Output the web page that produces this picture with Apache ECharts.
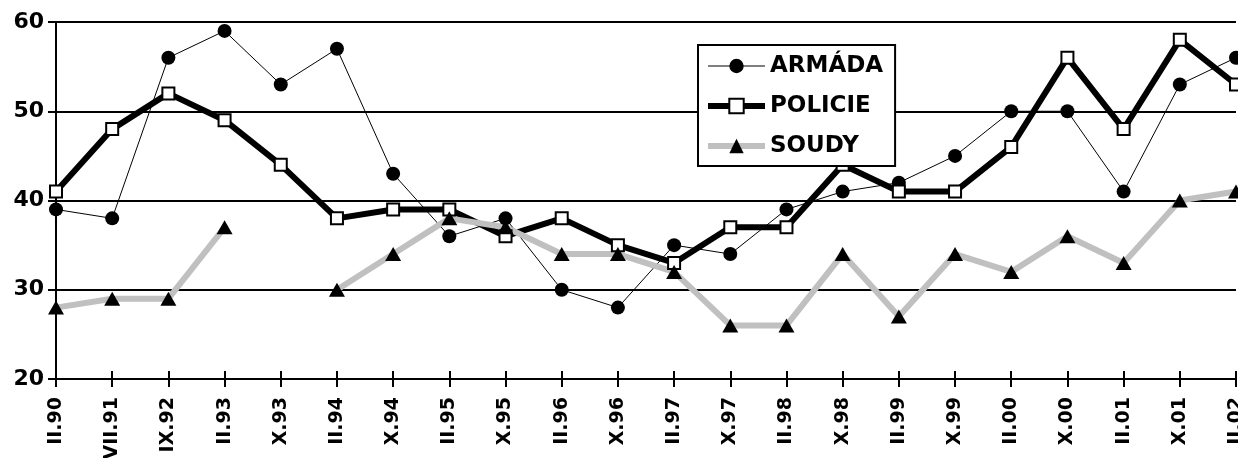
<!DOCTYPE html>
<html>
<head>
<meta charset="utf-8">
<script src="https://cdn.jsdelivr.net/npm/echarts@6/dist/echarts.min.js"></script>
<style>
  html, body { margin: 0; padding: 0; background: #fff; }
  #chart { width: 1238px; height: 458px; }
</style>
</head>
<body>
<div id="chart"></div>
<script>
var categories = ['II.90', 'VII.91', 'IX.92', 'II.93', 'X.93', 'II.94', 'X.94', 'II.95', 'X.95', 'II.96', 'X.96',
  'II.97', 'X.97', 'II.98', 'X.98', 'II.99', 'X.99', 'II.00', 'X.00', 'II.01', 'X.01', 'II.02'];
var armada =  [39, 38, 56, 59, 53, 57, 43, 36, 38, 30, 28, 35, 34, 39, 41, 42, 45, 50, 50, 41, 53, 56];
var policie = [41, 48, 52, 49, 44, 38, 39, 39, 36, 38, 35, 33, 37, 37, 44, 41, 41, 46, 56, 48, 58, 53];
var soudy =   [28, 29, 29, 37, null, 30, 34, 38, 37, 34, 34, 32, 26, 26, 34, 27, 34, 32, 36, 33, 40, 41];
var yTicks = { min: 20, max: 60, interval: 10 };

(function() {
  var font = 'DejaVu Sans';
  var chart = echarts.init(document.getElementById('chart'), null, { renderer: 'canvas' });

  chart.setOption({
    animation: false,
    grid: { left: 56, right: 2, top: 22, bottom: 79, outerBoundsMode: 'none' },
    legend: {
      orient: 'vertical',
      left: 698,
      top: 45,
      padding: [7, 12, 6, 7],
      itemGap: 12,
      itemWidth: 57,
      itemHeight: 18,
      backgroundColor: '#fff',
      borderColor: '#000',
      borderWidth: 2,
      textStyle: { color: '#000', fontFamily: font, fontWeight: 'bold', fontSize: 23, lineHeight: 28 },
      data: [
        { name: 'ARMÁDA', lineStyle: { color: '#000', width: 1 }, itemStyle: { color: '#000', borderWidth: 0 } },
        { name: 'POLICIE', lineStyle: { color: '#000', width: 6 }, itemStyle: { color: '#fff', borderColor: '#000', borderWidth: 2 } },
        { name: 'SOUDY', lineStyle: { color: '#c0c0c0', width: 6 }, itemStyle: { color: '#000', borderWidth: 0 } }
      ]
    },
    xAxis: [{
      type: 'category',
      data: categories,
      boundaryGap: false,
      position: 'bottom',
      axisLine: { lineStyle: { color: '#000', width: 2 } },
      axisTick: { show: true, length: 8, lineStyle: { color: '#000', width: 2 } },
      axisLabel: {
        rotate: 90, margin: 18, interval: 0,
        color: '#000', fontFamily: font, fontWeight: 'bold', fontSize: 19
      },
      splitLine: { show: false }
    }, {
      type: 'category',
      data: categories,
      boundaryGap: false,
      position: 'bottom',
      axisLine: { show: false },
      axisTick: { show: true, inside: true, length: 8, lineStyle: { color: '#000', width: 2 } },
      axisLabel: { show: false },
      splitLine: { show: false }
    }],
    yAxis: [{
      type: 'value',
      min: yTicks.min, max: yTicks.max, interval: yTicks.interval,
      position: 'left',
      axisLine: { show: true, lineStyle: { color: '#000', width: 2 } },
      axisTick: { show: true, length: 8, lineStyle: { color: '#000', width: 2 } },
      axisLabel: { margin: 12, color: '#000', fontFamily: font, fontWeight: 'bold', fontSize: 22 },
      splitLine: { show: true, lineStyle: { color: '#000', width: 2 } }
    }, {
      type: 'value',
      min: yTicks.min, max: yTicks.max, interval: yTicks.interval,
      position: 'left',
      axisLine: { show: false },
      axisTick: { show: true, inside: true, length: 8, lineStyle: { color: '#000', width: 2 } },
      axisLabel: { show: false },
      splitLine: { show: false }
    }],
    series: [
      {
        name: 'ARMÁDA',
        type: 'line',
        data: armada,
        symbol: 'circle',
        symbolSize: 14,
        itemStyle: { color: '#000', borderWidth: 0 },
        lineStyle: { color: '#000', width: 1 }
      },
      {
        name: 'POLICIE',
        type: 'line',
        data: policie,
        symbol: 'rect',
        symbolSize: 12,
        itemStyle: { color: '#fff', borderColor: '#000', borderWidth: 2 },
        lineStyle: { color: '#000', width: 6 }
      },
      {
        name: 'SOUDY',
        type: 'line',
        data: soudy,
        connectNulls: false,
        symbol: 'triangle',
        symbolSize: [16, 14],
        itemStyle: { color: '#000', borderWidth: 0 },
        lineStyle: { color: '#c0c0c0', width: 6 }
      }
    ]
  });

  window.addEventListener('resize', function() { chart.resize(); });
})();
</script>
</body>
</html>
